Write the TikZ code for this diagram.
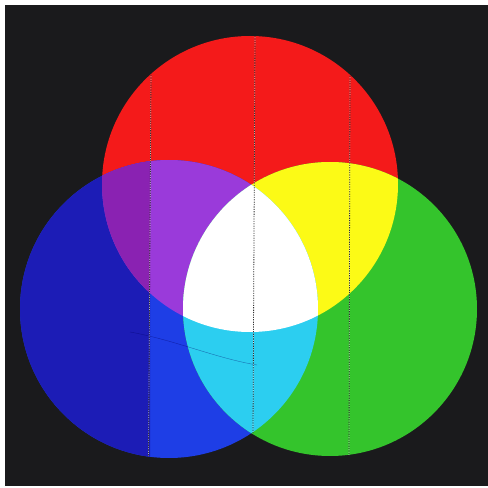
\documentclass[tikz,border=0pt]{standalone}
\begin{document}
\begin{tikzpicture}[x=1pt,y=1pt,
  dotline/.style={line width=0.8pt, draw=black!80, dash pattern=on 1.2pt off 1.2pt},
  dotlinew/.style={line width=0.6pt, draw=white, opacity=0.6, dash pattern=on 1.2pt off 1.2pt, dash phase=1.2pt}]
\definecolor{bg}{RGB}{26,26,28}
\definecolor{cred}{RGB}{244,26,26}
\definecolor{cgreen}{RGB}{52,196,44}
\definecolor{cblue}{RGB}{30,62,230}
\definecolor{cbluedk}{RGB}{28,28,182}
\definecolor{cyel}{RGB}{252,250,22}
\definecolor{ccyan}{RGB}{44,206,240}
\definecolor{cpurp}{RGB}{154,58,218}
\definecolor{cpurpdk}{RGB}{138,34,178}
\useasboundingbox (0,0) rectangle (488,488);
\fill[white] (0,0) rectangle (488,488);
\fill[bg] (5,2) rectangle (488,483);
% circles
\coordinate (R) at (250,304);
\coordinate (B) at (169,179);
\coordinate (G) at (330,179);
\def\pr{(R) circle[radius=148]}
\def\pb{(B) circle[radius=149]}
\def\pg{(G) circle[radius=147]}
\fill[cred] \pr;
\fill[cblue] \pb;
\fill[cgreen] \pg;
% left strip darker
\begin{scope}
  \clip (0,0) rectangle (150,488);
  \fill[cbluedk] \pb;
\end{scope}
% purple and yellow
\begin{scope}
  \clip \pr;
  \fill[cpurp] \pb;
  \fill[cyel] \pg;
  \clip (0,0) rectangle (150,488);
  \fill[cpurpdk] \pb;
\end{scope}
% cyan
\begin{scope}
  \clip \pb;
  \fill[ccyan] \pg;
\end{scope}
% white
\begin{scope}
  \clip \pr;
  \clip \pb;
  \fill[white] \pg;
\end{scope}
% scratch
\draw[line width=0.4pt, draw=black!60!blue, opacity=0.45]
  (130,156) .. controls (175,148) and (215,130) .. (257,123);
% dotted guide lines
\coordinate (l1t) at (151,413);
\coordinate (l1b) at (148.5,32);
\coordinate (l2t) at (255,452);
\coordinate (l2b) at (253,55);
\coordinate (l3t) at (350,412);
\coordinate (l3b) at (349,33);
\foreach \a/\b in {l1t/l1b,l2t/l2b,l3t/l3b}{
  \draw[dotlinew] (\a) -- (\b);
  \draw[dotline] (\a) -- (\b);
}
\end{tikzpicture}
\end{document}
